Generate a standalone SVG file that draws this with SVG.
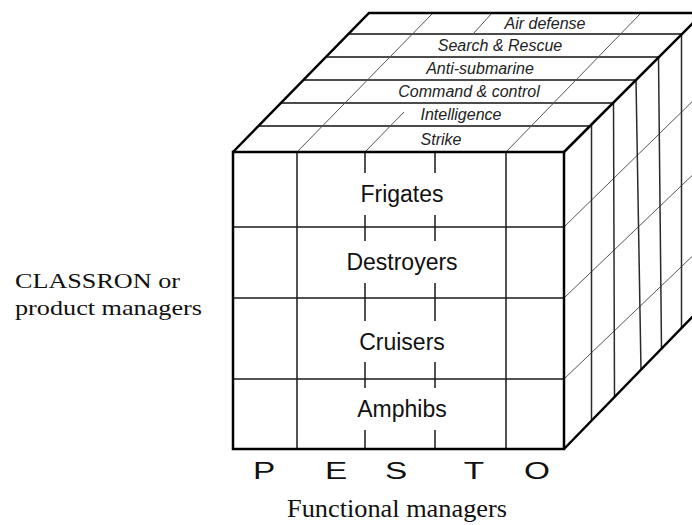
<svg xmlns="http://www.w3.org/2000/svg" width="692" height="525" viewBox="0 0 692 525">
<style>
.edge{fill:none;stroke:#000;stroke-width:2.5;stroke-linejoin:miter}
.grid{fill:none;stroke:#1a1a1a;stroke-width:1.5}
.band{fill:none;stroke:#111;stroke-width:1.7}
.vert{fill:none;stroke:#2a2a2a;stroke-width:1.5}
.diag{fill:none;stroke:#555;stroke-width:1}
.ship{font-family:"Liberation Sans",Arial,sans-serif;font-size:23px;fill:#111;text-anchor:middle}
.func{font-family:"Liberation Sans",Arial,sans-serif;font-size:16px;font-style:italic;fill:#222;text-anchor:middle}
.pesto{font-family:"Liberation Sans",Arial,sans-serif;font-size:23px;fill:#111;text-anchor:middle}
.serif{font-family:"Liberation Serif","Times New Roman",serif;fill:#111}
</style>
<rect width="692" height="525" fill="#fff"/>

<g id="connectors">
  <g id="top-face">
    <polygon points="233,152 564,152 703,13 369,13" fill="#fff" stroke="none"/>
    <line class="band" x1="258.4" y1="126" x2="590" y2="126"/>
    <line class="band" x1="280.9" y1="103" x2="613" y2="103"/>
    <line class="band" x1="303.4" y1="80" x2="636" y2="80"/>
    <line class="band" x1="326" y1="57" x2="659" y2="57"/>
    <line class="band" x1="348.5" y1="34" x2="682" y2="34"/>
    <line class="diag" x1="297" y1="152" x2="433" y2="13"/>
    <line class="diag" x1="365" y1="152" x2="404" y2="112"/>
    <line class="diag" x1="473" y1="34" x2="492" y2="13"/>
    <line class="diag" x1="506" y1="152" x2="641" y2="13"/>
    <polyline class="edge" points="233,152 369,13 703,13"/>
  </g>
  <g id="right-face">
    <line class="diag" x1="564" y1="227" x2="703" y2="91"/>
    <line class="diag" x1="564" y1="298" x2="703" y2="165"/>
    <line class="diag" x1="564" y1="379" x2="703" y2="246"/>
    <line class="vert" x1="591.5" y1="124.5" x2="591.5" y2="420.7"/>
    <line class="vert" x1="613.5" y1="102.5" x2="614.5" y2="397"/>
    <line class="vert" x1="636" y1="80" x2="641" y2="370"/>
    <line class="vert" x1="658.5" y1="57.5" x2="661.5" y2="348.7"/>
    <line class="vert" x1="681.5" y1="34.5" x2="681.5" y2="328"/>
    <line class="edge" x1="564" y1="152" x2="703" y2="13"/>
    <line class="edge" x1="564" y1="449" x2="703" y2="306"/>
  </g>
  <g id="front-face">
    <line class="grid" x1="233" y1="227" x2="564" y2="227"/>
    <line class="grid" x1="233" y1="298" x2="564" y2="298"/>
    <line class="grid" x1="233" y1="379" x2="564" y2="379"/>
    <line class="grid" x1="297" y1="152" x2="297" y2="449"/>
    <line class="grid" x1="506" y1="152" x2="506" y2="449"/>
    <path class="grid" d="M365,152V173M365,215V241M365,283V321M365,362V388M365,430V449"/>
    <path class="grid" d="M435,152V173M435,215V241M435,283V321M435,362V388M435,430V449"/>
    <rect class="edge" x="233" y="152" width="331" height="297"/>
  </g>
</g>

<g id="functions">
  <text class="func" x="545" y="28.5">Air defense</text>
  <text class="func" x="500" y="50.5">Search &amp; Rescue</text>
  <text class="func" x="480" y="73.5">Anti-submarine</text>
  <text class="func" x="469" y="96.5">Command &amp; control</text>
  <text class="func" x="461" y="120">Intelligence</text>
  <text class="func" x="441" y="144.5">Strike</text>
</g>

<g id="ships">
  <text class="ship" x="402" y="202">Frigates</text>
  <text class="ship" x="402" y="270">Destroyers</text>
  <text class="ship" x="402" y="350">Cruisers</text>
  <text class="ship" x="402" y="417">Amphibs</text>
</g>

<g id="pesto">
  <text class="pesto" transform="translate(264,479) scale(1.45,1)">P</text>
  <text class="pesto" transform="translate(336,479) scale(1.45,1)">E</text>
  <text class="pesto" transform="translate(396,479) scale(1.45,1)">S</text>
  <text class="pesto" transform="translate(474,479) scale(1.45,1)">T</text>
  <text class="pesto" transform="translate(537,479) scale(1.45,1)">O</text>
</g>

<g id="classron-label">
  <text class="serif" x="15" y="288" font-size="22" textLength="165" lengthAdjust="spacingAndGlyphs">CLASSRON or</text>
  <text class="serif" x="15" y="315" font-size="22" textLength="187" lengthAdjust="spacingAndGlyphs">product managers</text>
</g>

<g id="functional-label">
  <text class="serif" x="287" y="517" font-size="26" textLength="220" lengthAdjust="spacingAndGlyphs">Functional managers</text>
</g>
</svg>
